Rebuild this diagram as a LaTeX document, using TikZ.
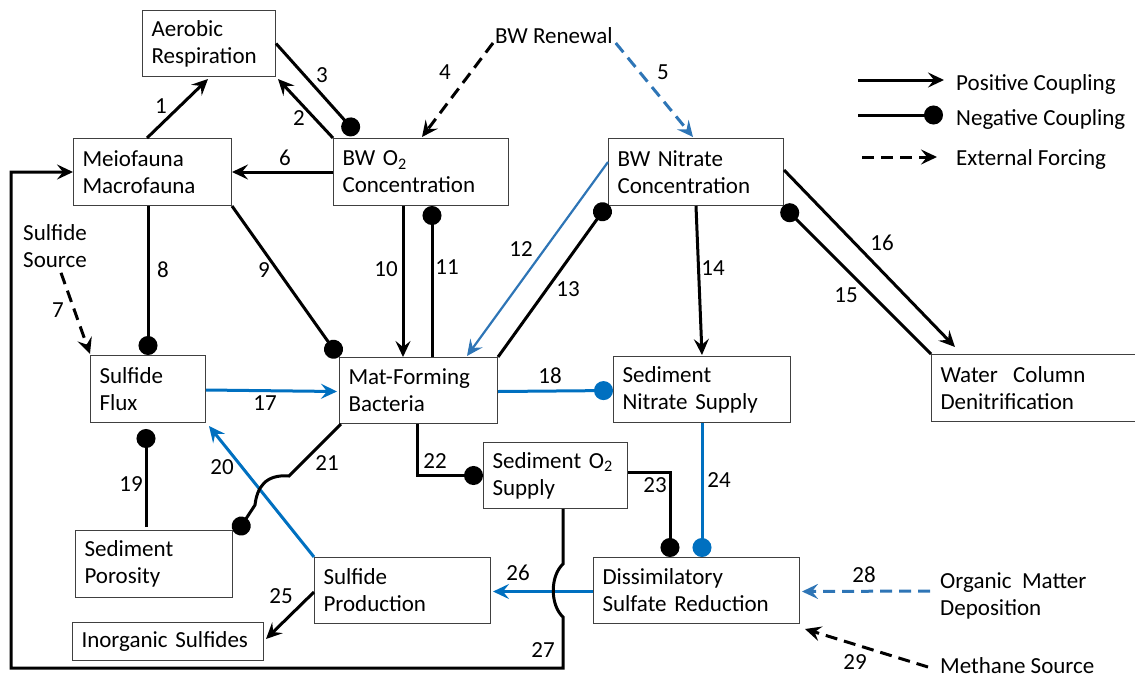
\documentclass[tikz,border=0pt]{standalone}
\usepackage{fontspec}
\setmainfont{Carlito}
\usetikzlibrary{arrows.meta,calc}
\definecolor{cblue}{RGB}{0,112,192}
\definecolor{lblue}{RGB}{46,117,182}
\begin{document}
\begin{tikzpicture}[x=1pt,y=-1pt, font=\fontsize{23pt}{27pt}\selectfont,
  box/.style={draw=black!75, line width=1pt, anchor=north west, inner xsep=0pt, inner ysep=0pt, align=left},
  lbl/.style={inner sep=0pt},
  txt/.style={inner sep=0pt, align=left},
  conn/.style={line width=3pt},
  posc/.style={conn, -{Stealth[length=16pt,width=15pt,inset=6pt]}},
  negc/.style={conn, -{Circle[length=19pt]}},
  extc/.style={posc, dash pattern=on 12pt off 7pt},
]
\useasboundingbox (0,0) rectangle (1135,678);

% boxes
\node[box, minimum width=133pt, minimum height=66pt, text width=115pt] (ar) at (142,10) {Aerobic\\Respiration};
\node[box, minimum width=158pt, minimum height=67pt, text width=140pt] (mf) at (73,138) {Meiofauna\\Macrofauna};
\node[box, minimum width=175pt, minimum height=67pt, text width=157pt] (o2) at (333,138) {BW O\textsubscript{2}\\Concentration};
\node[box, minimum width=175pt, minimum height=67pt, text width=157pt] (no3) at (608,138) {BW Nitrate\\Concentration};
\node[box, minimum width=115pt, minimum height=67pt, text width=97pt] (sf) at (90,355) {Sulfide\\Flux};
\node[box, minimum width=158pt, minimum height=66pt, text width=140pt] (mat) at (339,357) {Mat-Forming\\Bacteria};
\node[box, minimum width=177pt, minimum height=66pt, text width=159pt] (sn) at (613,356) {Sediment\\Nitrate Supply};
\node[box, minimum width=214pt, minimum height=67pt, text width=196pt] (wc) at (931,354) {Water\ \ Column\\Denitrification};
\node[box, minimum width=144pt, minimum height=66pt, text width=126pt] (so2) at (483,442) {Sediment O\textsubscript{2}\\Supply};
\node[box, minimum width=157pt, minimum height=67pt, text width=139pt] (por) at (75,530) {Sediment\\Porosity};
\node[box, minimum width=176pt, minimum height=66pt, text width=158pt] (sp) at (314,557) {Sulfide\\Production};
\node[box, minimum width=191pt, minimum height=38pt, text width=173pt] (inorg) at (72,622) {Inorganic Sulfides};
\node[box, minimum width=206pt, minimum height=66pt, text width=188pt] (dsr) at (593,557) {Dissimilatory\\Sulfate Reduction};

% free texts
\node[txt, anchor=base west] (bwr) at (495,43) {BW Renewal};
\node[txt, anchor=west] (sfs) at (23,246) {Sulfide\\Source};
\node[txt, anchor=west] (om) at (940,596) {Organic\ \ Matter\\Deposition};
\node[txt, anchor=base west] (ms) at (940,673) {Methane Source};

% legend
\coordinate (lg1a) at (858,80); \coordinate (lg1b) at (944,80);
\coordinate (lg2a) at (858,115); \coordinate (lg2b) at (943,115);
\coordinate (lg3a) at (862,157); \coordinate (lg3b) at (937,157);
\draw[posc] (lg1a) -- (lg1b);
\draw[negc] (lg2a) -- (lg2b);
\draw[extc] (lg3a) -- (lg3b);
\node[txt, anchor=base west] (lt1) at (956,90) {Positive Coupling};
\node[txt, anchor=base west] (lt2) at (956,125) {Negative Coupling};
\node[txt, anchor=base west] (lt3) at (956,165) {External Forcing};

% connectors
\draw[posc] ($(mf.north west)+(74,0)$) -- ($(ar.south west)+(66,2)$); % 1
\draw[posc] (o2.north west) -- ($(ar.south east)+(2,2)$); % 2
\draw[negc] (ar.east) -- ($(o2.north west)+(24,-4)$); % 3
\draw[extc] ($(bwr.base west)+(-2,0)$) -- ($(o2.north west)+(89,-1)$); % 4
\draw[extc, lblue] ($(bwr.base east)+(3,0)$) -- ($(no3.north west)+(85,-1)$); % 5
\draw[posc] (o2.west) -- (mf.east); % 6
\draw[extc] ($(sfs.south west)+(38,5)$) -- ($(sf.north west)+(0,-1)$); % 7
\draw[negc] ($(mf.south west)+(75,0)$) -- ($(sf.north west)+(58,0)$); % 8
\draw[negc] (mf.south east) -- (mat.north west); % 9
\draw[posc] ($(o2.south west)+(70,0)$) -- ($(mat.north west)+(64,0)$); % 10
\draw[negc] ($(mat.north west)+(93,0)$) -- ($(o2.south west)+(99,0)$); % 11
\draw[posc, lblue, line width=2.2pt] ($(no3.north west)+(0,24)$) -- ($(mat.north west)+(128,-1)$); % 12
\draw[negc] (mat.north east) -- ($(no3.south west)+(0,-2)$); % 13
\draw[posc] ($(no3.south west)+(88,0)$) -- ($(sn.north west)+(89,-1)$); % 14
\draw[negc] (wc.north west) -- ($(no3.south east)+(-1,0)$); % 15
\draw[posc] ($(no3.north east)+(0,32)$) -- ($(wc.north west)+(24,-7)$); % 16
\draw[posc, cblue] ($(sf.east)+(0,1)$) -- ($(mat.west)+(-2,1)$); % 17
\draw[negc, cblue] ($(mat.east)+(0,1)$) -- ($(sn.west)+(0,1)$); % 18
\draw[negc] ($(por.north west)+(71,-3)$) -- ($(sf.south west)+(56,6)$); % 19
\draw[posc, cblue] (sp.north west) -- ($(sf.south east)+(3,3)$); % 20
\coordinate (h21a) at (289,476);
\coordinate (h21b) at (255,505);
\draw[negc] ($(mat.south west)+(2,0)$) -- (h21a) .. controls (265,474) and (257,488) .. (h21b) -- ($(por.north east)+(3,4)$); % 21
\draw[negc] ($(mat.south west)+(78,0)$) |- (so2.west); % 22
\draw[negc] ($(so2.east)+(0,-3)$) -| ($(dsr.north west)+(77,0)$); % 23
\draw[negc, cblue] ($(sn.south west)+(89,0)$) -- ($(dsr.north west)+(109,0)$); % 24
\draw[posc] ($(sp.north west)+(0,35)$) -- ($(inorg.north east)+(2,17)$); % 25
\draw[posc, cblue] ($(dsr.west)+(0,1)$) -- ($(sp.east)+(2,1)$); % 26
\coordinate (h27a) at (563,564);
\coordinate (h27b) at (563,617);
\coordinate (h27c) at (563,668);
\coordinate (h27d) at (11,668);
\draw[posc] ($(so2.south west)+(80,0)$) -- (h27a) .. controls (550,576) and (550,605) .. (h27b) -- (h27c) -- (h27d) |- (mf.west); % 27
\draw[extc, lblue] ($(om.west)+(-10,-5)$) -- ($(dsr.east)+(2,1)$); % 28
\draw[extc] ($(ms.base west)+(-12,-6)$) -- ($(dsr.south east)+(5,5)$); % 29

% numbers
\node[lbl] (n1) at (161,106) {1};
\node[lbl] (n2) at (299,118) {2};
\node[lbl] (n3) at (322,75) {3};
\node[lbl] (n4) at (445,72) {4};
\node[lbl] (n5) at (663,72) {5};
\node[lbl] (n6) at (285,158) {6};
\node[lbl] (n7) at (58,310) {7};
\node[lbl] (n8) at (163,270) {8};
\node[lbl] (n9) at (264,270) {9};
\node[lbl] (n10) at (386,269) {10};
\node[lbl] (n11) at (447,267) {11};
\node[lbl] (n12) at (521,249) {12};
\node[lbl] (n13) at (568,289) {13};
\node[lbl] (n14) at (713,268) {14};
\node[lbl] (n15) at (846,295) {15};
\node[lbl] (n16) at (882,243) {16};
\node[lbl] (n17) at (265,403) {17};
\node[lbl] (n18) at (550,376) {18};
\node[lbl] (n19) at (131,484) {19};
\node[lbl] (n20) at (222,467) {20};
\node[lbl] (n21) at (327,463) {21};
\node[lbl] (n22) at (435,461) {22};
\node[lbl] (n23) at (655,485) {23};
\node[lbl] (n24) at (719,480) {24};
\node[lbl] (n25) at (281,596) {25};
\node[lbl] (n26) at (518,573) {26};
\node[lbl] (n27) at (543,650) {27};
\node[lbl] (n28) at (864,575) {28};
\node[lbl] (n29) at (855,662) {29};
\end{tikzpicture}
\end{document}
